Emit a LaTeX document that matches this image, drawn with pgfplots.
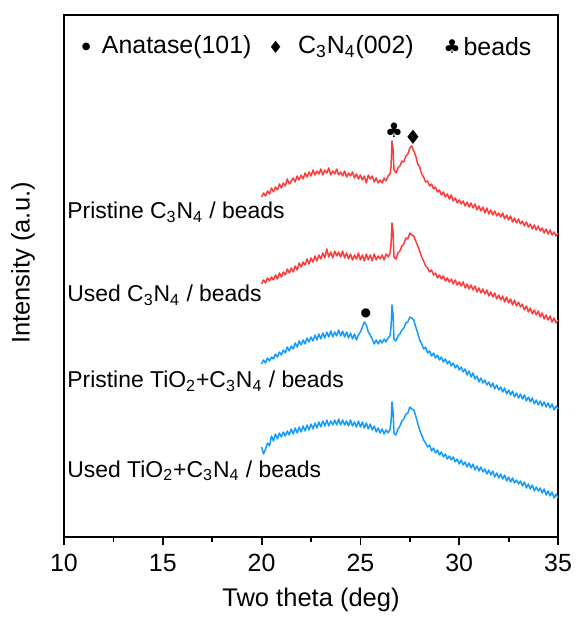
\documentclass[border=0pt]{standalone}
\usepackage{pgfplots}
\pgfplotsset{compat=1.18}
\usepackage{fontspec}
\setmainfont{Liberation Sans}
\newfontfamily\symfont{DejaVu Sans}
\usetikzlibrary{calc}
\definecolor{cred}{RGB}{255,59,59}
\definecolor{cblue}{RGB}{20,155,255}

\pgfplotstableread{
x y
20.0 422
20.1 426
20.2 423
20.3 428
20.4 425
20.5 431
20.6 427
20.7 432
20.8 429
20.9 435
21.0 431
21.1 436
21.2 433
21.3 440
21.4 435
21.5 438
21.6 441
21.7 437
21.8 443
21.9 439
22.0 444
22.1 440
22.2 446
22.3 442
22.4 447
22.5 443
22.6 449
22.7 444
22.8 448
22.9 445
23.0 450
23.1 444
23.2 449
23.3 446
23.4 451
23.5 444
23.6 448
23.7 445
23.8 450
23.9 444
24.0 447
24.1 443
24.2 448
24.3 442
24.4 446
24.5 443
24.6 447
24.7 441
24.8 445
24.9 440
25.0 444
25.1 439
25.2 443
25.3 436
25.4 444
25.5 440
25.6 443
25.7 437
25.8 441
25.9 436
26.0 439
26.1 436
26.2 441
26.3 438
26.4 443
26.5 445
26.55 452
26.6 478
26.65 470
26.7 449
26.8 446
26.9 451
27.0 453
27.1 458
27.2 457
27.3 463
27.4 465
27.5 471
27.6 473
27.7 468
27.8 463
27.9 455
28.0 452
28.1 445
28.2 442
28.3 437
28.4 438
28.5 433
28.6 435
28.7 430
28.8 432
28.9 427
29.0 429
29.1 424
29.2 427
29.3 422
29.4 425
29.5 420
29.6 424
29.7 418
29.8 421
29.9 416
30.0 419
30.1 415
30.2 418
30.3 413
30.4 417
30.5 412
30.6 416
30.7 411
30.8 415
30.9 409
31.0 413
31.1 408
31.2 412
31.3 406
31.4 411
31.5 405
31.6 409
31.7 404
31.8 408
31.9 403
32.0 406
32.1 402
32.2 406
32.3 400
32.4 404
32.5 399
32.6 403
32.7 397
32.8 401
32.9 396
33.0 400
33.1 395
33.2 398
33.3 393
33.4 397
33.5 392
33.6 395
33.7 390
33.8 394
33.9 389
34.0 393
34.1 388
34.2 391
34.3 386
34.4 390
34.5 385
34.6 389
34.7 384
34.8 387
34.9 383
35.0 386
}\pristineCN

\pgfplotstableread{
x y
20.0 335
20.1 339
20.2 336
20.3 341
20.4 338
20.5 342
20.6 339
20.7 344
20.8 340
20.9 346
21.0 342
21.1 347
21.2 344
21.3 350
21.4 346
21.5 351
21.6 347
21.7 353
21.8 349
21.9 356
22.0 352
22.1 357
22.2 354
22.3 360
22.4 355
22.5 361
22.6 357
22.7 363
22.8 358
22.9 364
23.0 360
23.1 366
23.2 361
23.3 370
23.4 362
23.5 367
23.6 361
23.7 368
23.8 363
23.9 367
24.0 362
24.1 368
24.2 361
24.3 366
24.4 360
24.5 365
24.6 359
24.7 364
24.8 360
24.9 366
25.0 359
25.1 364
25.2 358
25.3 365
25.4 359
25.5 364
25.6 358
25.7 365
25.8 359
25.9 363
26.0 360
26.1 364
26.2 359
26.3 365
26.4 362
26.5 366
26.55 375
26.6 396
26.65 388
26.7 362
26.8 360
26.9 366
27.0 368
27.1 373
27.2 375
27.3 381
27.4 380
27.5 386
27.6 384
27.7 383
27.8 378
27.9 373
28.0 368
28.1 362
28.2 358
28.3 353
28.4 351
28.5 347
28.6 349
28.7 344
28.8 346
28.9 341
29.0 344
29.1 340
29.2 343
29.3 338
29.4 341
29.5 337
29.6 340
29.7 335
29.8 339
29.9 334
30.0 337
30.1 333
30.2 337
30.3 331
30.4 335
30.5 330
30.6 334
30.7 329
30.8 333
30.9 327
31.0 331
31.1 326
31.2 330
31.3 325
31.4 329
31.5 323
31.6 327
31.7 322
31.8 326
31.9 320
32.0 324
32.1 319
32.2 323
32.3 317
32.4 322
32.5 316
32.6 320
32.7 314
32.8 319
32.9 313
33.0 317
33.1 312
33.2 315
33.3 309
33.4 313
33.5 307
33.6 311
33.7 305
33.8 309
33.9 304
34.0 308
34.1 302
34.2 306
34.3 300
34.4 304
34.5 299
34.6 303
34.7 297
34.8 301
34.9 296
35.0 299
}\usedCN

\pgfplotstableread{
x y
20.0 255
20.1 259
20.2 256
20.3 261
20.4 258
20.5 262
20.6 260
20.7 265
20.8 262
20.9 267
21.0 264
21.1 269
21.2 266
21.3 272
21.4 268
21.5 273
21.6 270
21.7 276
21.8 272
21.9 278
22.0 274
22.1 279
22.2 275
22.3 281
22.4 277
22.5 282
22.6 278
22.7 284
22.8 279
22.9 285
23.0 280
23.1 286
23.2 281
23.3 287
23.4 282
23.5 288
23.6 282
23.7 287
23.8 283
23.9 289
24.0 283
24.1 288
24.2 282
24.3 287
24.4 281
24.5 286
24.6 280
24.7 285
24.8 279
24.9 284
25.0 287
25.1 292
25.2 297
25.3 294
25.4 287
25.5 284
25.6 280
25.7 275
25.8 279
25.9 275
26.0 279
26.1 276
26.2 280
26.3 277
26.4 281
26.5 283
26.55 292
26.6 314
26.65 305
26.7 280
26.8 278
26.9 283
27.0 285
27.1 289
27.2 291
27.3 296
27.4 297
27.5 302
27.6 301
27.7 299
27.8 292
27.9 286
28.0 279
28.1 275
28.2 270
28.3 272
28.4 266
28.5 268
28.6 263
28.7 266
28.8 261
28.9 264
29.0 259
29.1 262
29.2 257
29.3 260
29.4 255
29.5 258
29.6 253
29.7 256
29.8 251
29.9 254
30.0 249
30.1 252
30.2 247
30.3 250
30.4 244
30.5 248
30.6 242
30.7 246
30.8 240
30.9 243
31.0 237
31.1 241
31.2 236
31.3 239
31.4 234
31.5 237
31.6 232
31.7 236
31.8 230
31.9 234
32.0 229
32.1 232
32.2 227
32.3 231
32.4 225
32.5 229
32.6 224
32.7 228
32.8 222
32.9 226
33.0 221
33.1 225
33.2 220
33.3 224
33.4 218
33.5 222
33.6 217
33.7 221
33.8 215
33.9 219
34.0 214
34.1 218
34.2 213
34.3 217
34.4 212
34.5 216
34.6 211
34.7 215
34.8 209
34.9 213
35.0 210
}\pristineTi

\pgfplotstableread{
x y
20.0 172
20.1 165
20.2 170
20.3 176
20.4 173
20.5 183
20.6 178
20.7 185
20.8 180
20.9 186
21.0 182
21.1 187
21.2 183
21.3 188
21.4 184
21.5 190
21.6 185
21.7 191
21.8 186
21.9 192
22.0 187
22.1 193
22.2 188
22.3 194
22.4 189
22.5 195
22.6 190
22.7 196
22.8 191
22.9 197
23.0 192
23.1 198
23.2 193
23.3 199
23.4 193
23.5 198
23.6 194
23.7 199
23.8 194
23.9 200
24.0 194
24.1 199
24.2 194
24.3 198
24.4 193
24.5 199
24.6 193
24.7 197
24.8 192
24.9 198
25.0 192
25.1 197
25.2 191
25.3 196
25.4 190
25.5 195
25.6 189
25.7 193
25.8 187
25.9 191
26.0 186
26.1 190
26.2 185
26.3 189
26.4 186
26.5 190
26.55 197
26.6 217
26.65 208
26.7 186
26.8 184
26.9 190
27.0 193
27.1 198
27.2 200
27.3 205
27.4 206
27.5 212
27.6 210
27.7 209
27.8 203
27.9 196
28.0 189
28.1 184
28.2 179
28.3 176
28.4 172
28.5 174
28.6 168
28.7 171
28.8 166
28.9 169
29.0 164
29.1 167
29.2 162
29.3 165
29.4 160
29.5 163
29.6 159
29.7 162
29.8 157
29.9 160
30.0 155
30.1 159
30.2 154
30.3 157
30.4 152
30.5 156
30.6 151
30.7 155
30.8 149
30.9 153
31.0 148
31.1 152
31.2 147
31.3 150
31.4 145
31.5 149
31.6 144
31.7 148
31.8 142
31.9 146
32.0 141
32.1 145
32.2 140
32.3 144
32.4 138
32.5 142
32.6 137
32.7 141
32.8 136
32.9 139
33.0 135
33.1 138
33.2 133
33.3 137
33.4 131
33.5 135
33.6 130
33.7 134
33.8 128
33.9 132
34.0 128
34.1 131
34.2 126
34.3 130
34.4 124
34.5 128
34.6 123
34.7 127
34.8 121
34.9 125
35.0 121
}\usedTi

\begin{document}
\begin{tikzpicture}
\begin{axis}[
  name=main,
  scale only axis,
  width=247bp, height=261bp,
  xmin=10, xmax=35, ymin=82, ymax=604,
  xtick={10,15,20,25,30,35},
  minor x tick num=1,
  ytick=\empty,
  xtick pos=bottom,
  xtick align=outside,
  major tick length=4bp,
  minor tick length=2.5bp,
  axis line style={line width=1.1bp},
  every tick/.style={line width=0.9bp, black},
  /pgf/number format/assume math mode=true,
  ticklabel style={font=\fontsize{12.5}{15}\selectfont},
  xticklabel style={yshift=-1bp},
  xlabel={Two theta (deg)},
  ylabel={Intensity (a.u.)},
  label style={font=\fontsize{12.8}{15}\selectfont},
  xlabel style={at={(axis description cs:0.5,-0.12)}, anchor=center},
  ylabel style={at={(axis description cs:-0.083,0.525)}, anchor=center},
  clip=false,
  every axis plot/.append style={line width=0.75bp, line join=round},
]
\addplot[cred] table[x=x,y=y] {\pristineCN};
\addplot[cred] table[x=x,y=y] {\usedCN};
\addplot[cblue] table[x=x,y=y] {\pristineTi};
\addplot[cblue] table[x=x,y=y] {\usedTi};

\tikzset{lab/.style={anchor=base west, inner sep=0pt, font=\fontsize{11.5}{14}\selectfont}}
\node[lab] at (axis cs:10.15,400) {Pristine C\textsubscript{3}N\textsubscript{4} / beads};
\node[lab] at (axis cs:10.15,317) {Used C\textsubscript{3}N\textsubscript{4} / beads};
\node[lab] at (axis cs:10.15,231) {Pristine TiO\textsubscript{2}+C\textsubscript{3}N\textsubscript{4} / beads};
\node[lab] at (axis cs:10.15,142) {Used TiO\textsubscript{2}+C\textsubscript{3}N\textsubscript{4} / beads};

\tikzset{sym/.style={inner sep=0pt, anchor=center}}
\node[sym, font=\symfont\fontsize{10}{12}\selectfont] at (axis cs:26.70,489) {♣};
\node[sym, font=\symfont\fontsize{10}{12}\selectfont] at (axis cs:27.66,482) {♦};
\node[sym, font=\symfont\fontsize{6}{12}\selectfont] at (axis cs:25.28,306) {●};

% header legend
\node[sym, font=\symfont\fontsize{5}{12}\selectfont] at (axis cs:11.12,572) {●};
\node[anchor=west, inner sep=0pt, font=\fontsize{12.5}{15}\selectfont] at (axis cs:11.9,572) {Anatase(101)};
\node[sym, font=\symfont\fontsize{8.5}{12}\selectfont] at (axis cs:20.72,572) {♦};
\node[anchor=west, inner sep=0pt, font=\fontsize{12.5}{15}\selectfont] at (axis cs:21.83,572) {C\textsubscript{3}N\textsubscript{4}(002)};
\node[sym, font=\symfont\fontsize{9.5}{12}\selectfont] at (axis cs:29.64,572) {♣};
\node[anchor=west, inner sep=0pt, font=\fontsize{12.5}{15}\selectfont] at (axis cs:30.2,572) {beads};
\end{axis}
\path[use as bounding box] ($(main.south west)+(-32bp,-41bp)$) rectangle ($(main.north east)+(9bp,7.5bp)$);
\end{tikzpicture}
\end{document}
